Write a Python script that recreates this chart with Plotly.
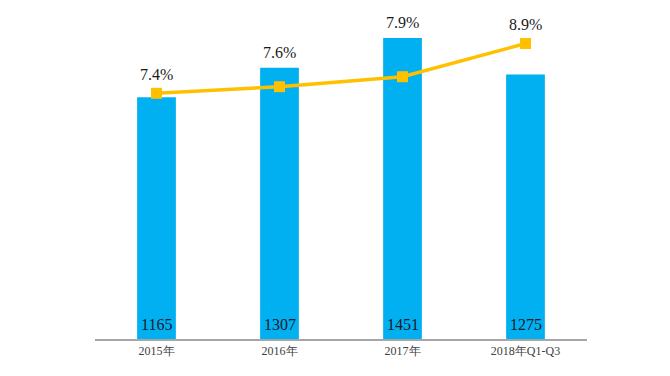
import plotly.graph_objects as go

categories = ["2015年", "2016年", "2017年", "2018年Q1-Q3"]
revenue = [1165, 1307, 1451, 1275]
growth_pct = [7.4, 7.6, 7.9, 8.9]
growth_labels = ["7.4%", "7.6%", "7.9%", "8.9%"]

BAR_COLOR = "#00B0F0"
LINE_COLOR = "#FFC000"
SERIF = "Liberation Serif, DejaVu Serif, serif"

Y1_MAX = 1595
Y2_MAX = 9.97

fig = go.Figure()
fig.add_trace(go.Bar(
    x=categories, y=revenue, marker=dict(color=BAR_COLOR, line=dict(width=0)),
    hoverinfo="skip", showlegend=False,
))
fig.add_trace(go.Scatter(
    x=categories, y=growth_pct, yaxis="y2", mode="lines+markers",
    line=dict(color=LINE_COLOR, width=3.5),
    marker=dict(symbol="square", size=11, color=LINE_COLOR),
    hoverinfo="skip", showlegend=False,
))

annotations = []
for c, v in zip(categories, revenue):
    annotations.append(dict(x=c, y=0, xref="x", yref="y", text=str(v),
                            showarrow=False, yanchor="middle", yshift=15,
                            font=dict(family=SERIF, size=16, color="#1a1a2a")))
for c, v, p, t in zip(categories, revenue, growth_pct, growth_labels):
    p_in_y1 = p / Y2_MAX * Y1_MAX
    if p_in_y1 >= v:
        annotations.append(dict(x=c, y=p, xref="x", yref="y2", text=t,
                                showarrow=False, yanchor="middle", yshift=19,
                                font=dict(family=SERIF, size=16, color="#1a1a1a")))
    else:
        annotations.append(dict(x=c, y=v, xref="x", yref="y", text=t,
                                showarrow=False, yanchor="middle", yshift=15,
                                font=dict(family=SERIF, size=16, color="#1a1a1a")))

fig.update_layout(
    width=670, height=376,
    margin=dict(l=87, r=91, t=0, b=45),
    paper_bgcolor="white", plot_bgcolor="white",
    bargap=0.685,
    xaxis=dict(showline=True, linecolor="#A6A6A6", linewidth=2, ticks="",
               showgrid=False, zeroline=False,
               tickfont=dict(family=SERIF, size=12, color="#404040")),
    yaxis=dict(range=[0, Y1_MAX], visible=False, showgrid=False, zeroline=False),
    yaxis2=dict(range=[0, Y2_MAX], overlaying="y", visible=False,
                showgrid=False, zeroline=False),
    annotations=annotations,
)

fig.write_html("out.html")
